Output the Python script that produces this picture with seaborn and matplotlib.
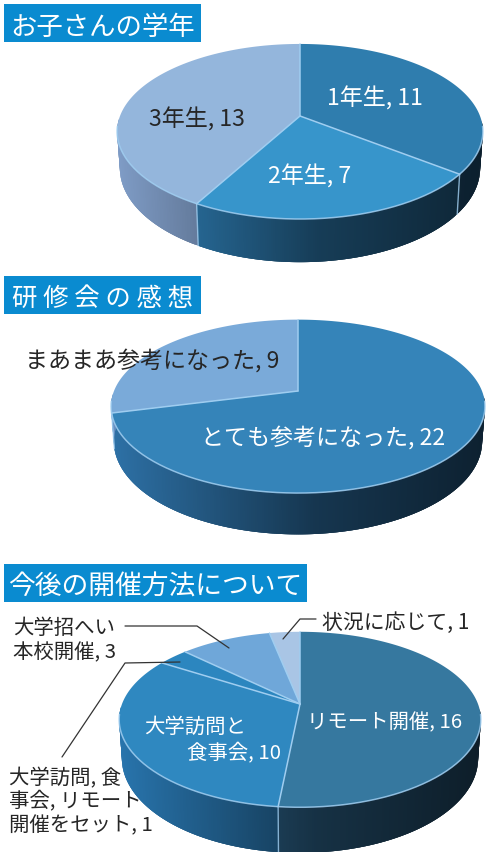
import numpy as np
import matplotlib
matplotlib.use("Agg")
import matplotlib.pyplot as plt
from matplotlib.collections import PolyCollection
from matplotlib.colors import to_rgb
import seaborn as sns

# Survey results
grade_labels = ["1年生", "2年生", "3年生"]
grade_values = [11, 7, 13]
impression_labels = ["とても参考になった", "まあまあ参考になった"]
impression_values = [22, 9]
format_labels = ["リモート開催", "大学訪問と食事会", "大学訪問, 食事会, リモート開催をセット", "大学招へい本校開催", "状況に応じて"]
format_values = [16, 10, 1, 3, 1]

grade_colors = ["#2f7dae", "#3795cb", "#94b6dc"]
impression_colors = ["#3584b9", "#7aaad9"]
format_colors = ["#36789f", "#2f88c0", "#2c86bf", "#6fa7d9", "#a9c5e5"]

sns.set_theme(style="white")
plt.rcParams["font.family"] = ["Noto Sans CJK JP", "DejaVu Sans"]

W, H = 486, 853
fig = plt.figure(figsize=(W / 100, H / 100), dpi=100)
ax = fig.add_axes([0, 0, 1, 1])
ax.set_xlim(0, W)
ax.set_ylim(H, 0)
ax.axis("off")

BANNER = "#0a8bd0"
EDGE = "#9fcdf0"
K = 0.177


def project(theta, cx, cy, half_w, a):
    """Map a clockwise-from-north angle on the disc to the tilted view."""
    u, v = np.sin(theta), -np.cos(theta)
    w = 1 - K * v
    return cx + half_w * u / w, cy + a * v / w, w


def wall_shade(pos):
    # Lit on the left, falling to deep navy on the right
    if pos < 0.55:
        return 0.85 - 0.8 * pos
    return 0.41 - 0.35 * (pos - 0.55)


def pie3d(values, colors, cx, cy, half_w, a, depth):
    edges = np.cumsum([0] + list(values)) / sum(values) * 2 * np.pi
    walls, wall_cols = [], []
    for i, base in enumerate(colors):
        th = np.linspace(edges[i], edges[i + 1], max(int((edges[i + 1] - edges[i]) * 100), 4))
        x, y, w = project(th, cx, cy, half_w, a)
        xb = cx + (x - cx) * 0.985
        yb = y + depth / w
        for j in range(len(th) - 1):
            if -np.cos(th[j]) < K - 0.12 and -np.cos(th[j + 1]) < K - 0.12:
                continue
            # Each strip overlaps the next so no seams show between them
            n = min(j + 3, len(th) - 1)
            walls.append([(x[j], y[j]), (x[n], y[n]), (xb[n], yb[n]), (xb[j], yb[j])])
            f = wall_shade((x[j] - (cx - half_w)) / (2 * half_w))
            r, g, b = to_rgb(base)
            wall_cols.append((r * f, g * f, min(1, b * f * 1.05)))
    ax.add_collection(PolyCollection(walls, facecolors=wall_cols, edgecolors="none", zorder=2))

    for i, base in enumerate(colors):
        th = np.linspace(edges[i], edges[i + 1], 160)
        x, y, _ = project(th, cx, cy, half_w, a)
        ax.fill(np.r_[cx, x], np.r_[cy, y], color=base, lw=0, zorder=3)
    # Pale separators across the disc and down the wall
    for e in edges[:-1]:
        x, y, w = project(e, cx, cy, half_w, a)
        ax.plot([cx, x], [cy, y], color=EDGE, lw=1.1, zorder=4, solid_capstyle="round")
        if -np.cos(e) > K - 0.12:
            ax.plot([x, cx + (x - cx) * 0.985], [y, y + depth / w], color=EDGE, lw=1.0, alpha=0.8, zorder=4)
    # Highlight along the near rim
    th = np.linspace(np.pi / 2 + 0.12, 3 * np.pi / 2 - 0.12, 200)
    x, y, _ = project(th, cx, cy, half_w, a)
    ax.plot(x, y, color=EDGE, lw=1.1, alpha=0.85, zorder=4)


def banner(x0, y0, x1, y1, text, size=19):
    ax.fill([x0, x1, x1, x0], [y0, y0, y1, y1], color=BANNER, lw=0, zorder=5)
    ax.text((x0 + x1) / 2, (y0 + y1) / 2, text, color="white", fontsize=size, ha="center", va="center_baseline", zorder=6)


def label(x, y, text, color="white", size=14.7, **kw):
    kw.setdefault("ha", "center")
    ax.text(x, y, text, color=color, fontsize=size, va="center_baseline", zorder=7, **kw)


DARK = "#262626"
pie3d(grade_values, grade_colors, 300, 117, 180, 84.8, 35.5)
pie3d(impression_values, impression_colors, 298, 392, 184, 84, 34)
pie3d(format_values, format_colors, 300, 705, 178, 85, 37.5)

banner(4, 5, 201, 43, "お子さんの学年")
banner(4, 277, 201, 315, "研 修 会 の 感 想", size=18.3)
banner(4, 565, 307, 603, "今後の開催方法について", size=19.3)

BIG = 16.6
label(375, 96, f"{grade_labels[0]}, {grade_values[0]}", size=BIG)
label(310, 174, f"{grade_labels[1]}, {grade_values[1]}", size=BIG)
label(197, 117, f"{grade_labels[2]}, {grade_values[2]}", color=DARK, size=BIG)

label(152, 358, f"{impression_labels[1]}, {impression_values[1]}", color=DARK, size=BIG)
label(323, 435, f"{impression_labels[0]}, {impression_values[0]}", size=BIG)

label(385, 720, f"{format_labels[0]}, {format_values[0]}")
label(195, 725, "大学訪問と")
label(234, 751, f"食事会, {format_values[1]}")
label(396, 620, f"{format_labels[4]}, {format_values[4]}", color=DARK, size=15)
label(13, 626, "大学招へい", color=DARK, ha="left")
label(13, 650, f"本校開催, {format_values[3]}", color=DARK, ha="left")
label(9, 776, "大学訪問, 食", color=DARK, ha="left")
label(9, 799, "事会, リモート", color=DARK, ha="left")
label(9, 823, f"開催をセット, {format_values[2]}", color=DARK, ha="left")

# Leader lines for the small slices
LEAD = "#333333"
ax.plot([125, 197, 229], [627, 627, 649], color=LEAD, lw=0.9, zorder=6)
ax.plot([180, 125, 62], [663, 664, 758], color=LEAD, lw=0.9, zorder=6)
ax.plot([316, 300, 283], [620, 620, 640], color=LEAD, lw=0.9, zorder=6)

fig.savefig("out.png", dpi=100)
